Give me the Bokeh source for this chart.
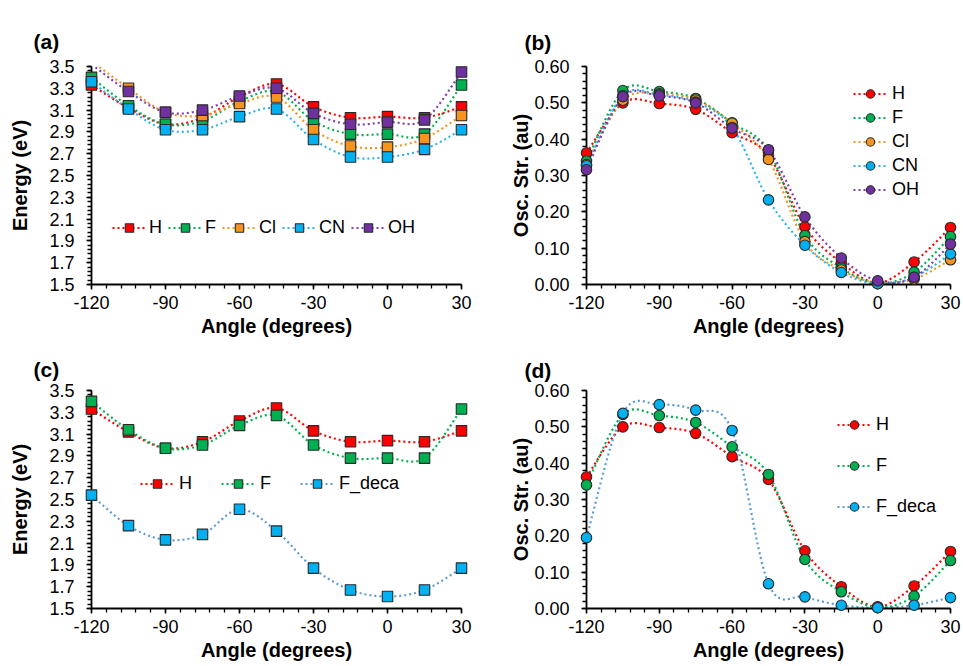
import numpy as np
from bokeh.plotting import figure
from bokeh.layouts import column, row
from bokeh.models import (FixedTicker, PrintfTickFormatter, Legend, LegendItem,
                          Range1d, Title)
from bokeh.embed import file_html
from bokeh.resources import INLINE

# ---------------------------------------------------------------- data
angles = [-120, -105, -90, -75, -60, -45, -30, -15, 0, 15, 30]

# excitation energies (eV)
energy_H = [3.33, 3.12, 2.97, 3.03, 3.22, 3.34, 3.13, 3.03, 3.04, 3.03, 3.13]
energy_F = [3.40, 3.14, 2.97, 3.00, 3.18, 3.27, 3.00, 2.88, 2.88, 2.88, 3.33]
energy_Cl = [3.55, 3.30, 3.08, 3.05, 3.16, 3.22, 2.92, 2.77, 2.76, 2.84, 3.05]
energy_CN = [3.36, 3.11, 2.92, 2.92, 3.04, 3.11, 2.83, 2.67, 2.67, 2.74, 2.92]
energy_OH = [3.52, 3.27, 3.08, 3.10, 3.23, 3.30, 3.07, 2.97, 2.99, 3.01, 3.45]
energy_F_deca = [2.54, 2.26, 2.13, 2.18, 2.41, 2.21, 1.87, 1.67, 1.61, 1.67, 1.87]

# oscillator strengths (au)
osc_H = [0.362, 0.500, 0.498, 0.482, 0.418, 0.355, 0.159, 0.060, 0.005, 0.062, 0.157]
osc_F = [0.340, 0.534, 0.531, 0.512, 0.445, 0.369, 0.135, 0.046, 0.003, 0.034, 0.132]
osc_Cl = [0.330, 0.507, 0.525, 0.508, 0.444, 0.344, 0.118, 0.040, 0.004, 0.015, 0.068]
osc_CN = [0.327, 0.520, 0.522, 0.502, 0.432, 0.233, 0.108, 0.033, 0.002, 0.020, 0.084]
osc_OH = [0.316, 0.517, 0.519, 0.500, 0.430, 0.371, 0.186, 0.073, 0.010, 0.020, 0.111]
osc_F_deca = [0.195, 0.537, 0.561, 0.546, 0.490, 0.068, 0.032, 0.009, 0.002, 0.009, 0.030]

# axis ticks
angle_ticks = [-120, -90, -60, -30, 0, 30]
angle_minor = list(range(-120, 31, 6))
energy_ticks = [1.5, 1.7, 1.9, 2.1, 2.3, 2.5, 2.7, 2.9, 3.1, 3.3, 3.5]
energy_minor = [round(1.5 + 0.04 * i, 2) for i in range(51)]
osc_ticks = [0.0, 0.1, 0.2, 0.3, 0.4, 0.5, 0.6]
osc_minor = [round(0.02 * i, 2) for i in range(31)]

# ---------------------------------------------------------------- styles
FONT = "Liberation Sans"
COL = {
    "H": ("#FF0000", "#FF0000"),
    "F": ("#00B050", "#00B050"),
    "Cl": ("#F7941D", "#F7941D"),
    "CN": ("#00B0F0", "#2DB4EC"),
    "OH": ("#7030A0", "#7E3FB0"),
    "F_deca": ("#00B0F0", "#5B9BD5"),
}


def smooth(xs, ys, n=40):
    """Smoothed polyline through the points (cubic Bezier segments whose
    control points follow the Catmull-Rom rule, ends duplicated)."""
    xs = np.asarray(xs, float)
    ys = np.asarray(ys, float)
    px = np.concatenate([[xs[0]], xs, [xs[-1]]])
    py = np.concatenate([[ys[0]], ys, [ys[-1]]])
    t = np.linspace(0.0, 1.0, n)
    ox, oy = [], []
    for i in range(len(xs) - 1):
        p0 = np.array([px[i], py[i]])
        p1 = np.array([px[i + 1], py[i + 1]])
        p2 = np.array([px[i + 2], py[i + 2]])
        p3 = np.array([px[i + 3], py[i + 3]])
        c1 = p1 + (p2 - p0) / 6.0
        c2 = p2 - (p3 - p1) / 6.0
        b0 = (1 - t) ** 3
        b1 = 3 * (1 - t) ** 2 * t
        b2 = 3 * (1 - t) * t ** 2
        b3 = t ** 3
        seg = (np.outer(b0, p1) + np.outer(b1, c1) + np.outer(b2, c2)
               + np.outer(b3, p2))
        if i > 0:
            seg = seg[1:]
        ox.extend(seg[:, 0])
        oy.extend(seg[:, 1])
    return ox, oy


def panel(tag, width, height, ax_left, ax_right, ax_top, ax_bottom,
          y_lo, y_hi, y_ticks, y_minor, y_fmt, y_label,
          title_offset, title_standoff, ylab_standoff):
    fl = int(round(ax_left))
    fr = int(round(ax_right))
    ft = int(round(ax_top))
    fb = int(round(ax_bottom))
    p = figure(width=width, height=height,
               x_range=Range1d(-120, 30), y_range=Range1d(y_lo, y_hi),
               output_backend="svg", toolbar_location=None,
               min_border_left=fl, min_border_right=width - fr,
               min_border_top=ft, min_border_bottom=height - fb,
               x_axis_label="Angle (degrees)", y_axis_label=y_label)
    p.xgrid.visible = False
    p.ygrid.visible = False
    p.outline_line_color = None
    p.background_fill_color = "white"
    p.border_fill_color = "white"

    p.title = Title(text=tag, align="left", offset=title_offset,
                    standoff=title_standoff, text_font=FONT,
                    text_font_size="21px", text_font_style="bold",
                    text_color="black")

    xa = p.xaxis[0]
    ya = p.yaxis[0]
    xa.ticker = FixedTicker(ticks=angle_ticks, minor_ticks=angle_minor)
    ya.ticker = FixedTicker(ticks=y_ticks, minor_ticks=y_minor)
    xa.formatter = PrintfTickFormatter(format="%d")
    ya.formatter = PrintfTickFormatter(format=y_fmt)
    for ax in (xa, ya):
        ax.axis_line_color = "black"
        ax.axis_line_width = 1.8
        ax.major_tick_line_color = "black"
        ax.minor_tick_line_color = "black"
        ax.major_tick_line_width = 1.5
        ax.minor_tick_line_width = 1.3
        ax.major_tick_in = 0
        ax.major_tick_out = 5
        ax.minor_tick_in = 0
        ax.minor_tick_out = 4
        ax.major_label_text_font = FONT
        ax.major_label_text_font_size = "18px"
        ax.major_label_text_color = "black"
        ax.axis_label_text_font = FONT
        ax.axis_label_text_font_size = "20px"
        ax.axis_label_text_font_style = "bold"
        ax.axis_label_text_color = "black"
    xa.major_label_standoff = 6
    xa.axis_label_standoff = 3
    ya.major_label_standoff = 12
    ya.axis_label_standoff = ylab_standoff
    return p


def add_series(p, name, ys, marker, y_top):
    fill, line = COL[name]
    sx, sy = smooth(angles, ys)
    lr = p.line(sx, sy, line_color=line, line_width=2.2, line_dash="2 3")
    # markers beyond the top of the value axis are not shown
    keep = [i for i, v in enumerate(ys) if v <= y_top]
    mr = p.scatter([angles[i] for i in keep], [ys[i] for i in keep],
                   marker=marker, size=10.5, fill_color=fill,
                   line_color="#2a2a2a", line_width=1.1, level="overlay")
    return LegendItem(label=name, renderers=[lr, mr])


def add_legend(p, items, orientation, location, spacing, standoff):
    lg = Legend(items=items, orientation=orientation, location=location,
                glyph_width=34, glyph_height=21, label_height=21,
                label_width=1, label_standoff=standoff, spacing=spacing,
                padding=0, margin=0, border_line_color=None,
                background_fill_alpha=0, label_text_font=FONT,
                label_text_font_size="18px", label_text_color="black")
    p.add_layout(lg)


H1, H2 = 345, 321

# (a) energies of the substituted series
pa = panel("(a)", 481, H1, 90.7, 461.0, 65.7, 286.7, 1.5, 3.5,
           energy_ticks, energy_minor, "%.1f", "Energy (eV)",
           -58, 28, 15)
items = [add_series(pa, n, v, "square", 3.5) for n, v in
         [("H", energy_H), ("F", energy_F), ("Cl", energy_Cl),
          ("CN", energy_CN), ("OH", energy_OH)]]
add_legend(pa, items, "horizontal", (21, 46), 6, 3)

# (b) oscillator strengths of the substituted series
pb = panel("(b)", 482, H1, 104.7, 469.3, 63.3, 284.3, 0.0, 0.6,
           osc_ticks, osc_minor, "%.2f", "Osc. Str. (au)",
           -62, 26, -1)
items = [add_series(pb, n, v, "circle", 0.6) for n, v in
         [("H", osc_H), ("F", osc_F), ("Cl", osc_Cl),
          ("CN", osc_CN), ("OH", osc_OH)]]
add_legend(pb, items, "vertical", (267, 84), 3, 5)

# (c) energies, F vs. F_deca
pc = panel("(c)", 481, H2, 90.7, 461.0, 44.7, 265.7, 1.5, 3.5,
           energy_ticks, energy_minor, "%.1f", "Energy (eV)",
           -58, 19, 15)
items = [add_series(pc, n, v, "square", 3.5) for n, v in
         [("H", energy_H), ("F", energy_F), ("F_deca", energy_F_deca)]]
add_legend(pc, items, "horizontal", (49, 114), 29, 5)

# (d) oscillator strengths, F vs. F_deca
pd_ = panel("(d)", 482, H2, 104.7, 469.3, 42.0, 263.0, 0.0, 0.6,
            osc_ticks, osc_minor, "%.2f", "Osc. Str. (au)",
            -62, 17, -1)
items = [add_series(pd_, n, v, "circle", 0.6) for n, v in
         [("H", osc_H), ("F", osc_F), ("F_deca", osc_F_deca)]]
add_legend(pd_, items, "vertical", (251, 91), 20, 5)

layout = column(row(pa, pb), row(pc, pd_))
open("out.html", "w").write(file_html(layout, INLINE))
